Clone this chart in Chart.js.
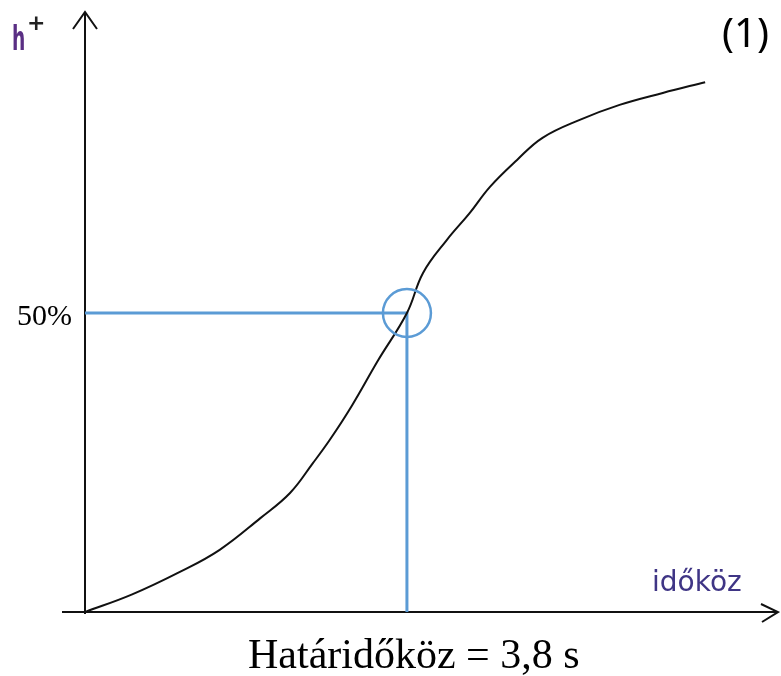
<!DOCTYPE html>
<html>
<head>
<meta charset="utf-8">
<script src="https://cdn.jsdelivr.net/npm/chart.js@4"></script>
<style>
  body { margin: 0; background: #fff; }
  #wrap { width: 781px; height: 676px; position: relative; }
</style>
</head>
<body>
<div id="wrap"><canvas id="chart"></canvas></div>
<script>
// curve: h+ (%) against headway (s)
const headway = [0, 0.55, 1.12, 1.59, 2.07, 2.42, 2.69, 2.89, 3.15, 3.46, 3.8, 3.99, 4.27, 4.54, 4.78, 5.10, 5.40, 5.84, 6.31, 6.82, 7.32];
const hPlus   = [0, 2.9, 6.7, 10.4, 15.7, 19.9, 24.9, 28.8, 34.5, 42.1, 50, 56.7, 62.2, 66.7, 71.1, 75.6, 79.3, 82.3, 84.8, 86.8, 88.6];

const criticalHeadway = 3.8;
const criticalShare = 50;
const yTickLabel = '50%';
const xAxisLabel = 'időköz';
const yAxisLabel = 'h';
const panelLabel = '(1)';
const resultLabel = 'Határidőköz = 3,8 s';

const blue = '#5b9bd5';

// axes with open arrow heads, the circle marker and all the text labels
const annotations = {
    id: 'annotations',
    beforeDatasetsDraw(chart) {
        const { ctx, chartArea, scales } = chart;
        const x0 = scales.x.getPixelForValue(0);
        const y0 = scales.y.getPixelForValue(0);
        const top = chartArea.top - 2;
        const right = chartArea.right;
        ctx.save();
        ctx.strokeStyle = '#111';
        ctx.lineWidth = 2;
        ctx.beginPath();
        ctx.moveTo(x0, y0 + 2);
        ctx.lineTo(x0, top);
        ctx.moveTo(62, y0);
        ctx.lineTo(right, y0);
        // arrow heads
        ctx.moveTo(x0 - 12, top + 17);
        ctx.lineTo(x0, top);
        ctx.lineTo(x0 + 12, top + 17);
        ctx.moveTo(right - 17, y0 - 8);
        ctx.lineTo(right, y0);
        ctx.lineTo(right - 16, y0 + 10);
        ctx.stroke();
        ctx.restore();
    },
    afterDraw(chart) {
        const { ctx, scales } = chart;
        ctx.save();

        // circle round the 50% point
        ctx.strokeStyle = blue;
        ctx.lineWidth = 2.5;
        ctx.beginPath();
        ctx.arc(scales.x.getPixelForValue(criticalHeadway), scales.y.getPixelForValue(criticalShare), 24, 0, Math.PI * 2);
        ctx.stroke();

        ctx.textBaseline = 'alphabetic';

        // h+
        ctx.fillStyle = '#5a2f84';
        ctx.font = 'bold 34px "DejaVu Sans"';
        ctx.save();
        ctx.translate(12, 50);
        ctx.scale(0.55, 1);
        ctx.fillText(yAxisLabel, 0, 0);
        ctx.restore();
        ctx.fillStyle = '#222';
        ctx.font = 'bold 22px "DejaVu Sans"';
        ctx.fillText('+', 27, 30);

        // időköz
        ctx.fillStyle = '#3f3585';
        ctx.font = '28px "DejaVu Sans"';
        ctx.textAlign = 'left';
        ctx.fillText(xAxisLabel, 652, 591);

        // 50%
        ctx.fillStyle = '#000';
        ctx.font = '30px "Liberation Serif"';
        ctx.textAlign = 'right';
        ctx.fillText(yTickLabel, 72, scales.y.getPixelForValue(criticalShare) + 12);

        // (1)
        ctx.font = '40px "Noto Sans"';
        ctx.fillText(panelLabel, 769, 47);

        // result
        ctx.font = '42px "Liberation Serif"';
        ctx.textAlign = 'left';
        ctx.fillText(resultLabel, 248, 668);
        ctx.restore();
    }
};

new Chart(document.getElementById('chart'), {
    type: 'line',
    data: {
        datasets: [
            {
                label: 'h+',
                data: headway.map((t, i) => ({ x: t, y: hPlus[i] })),
                borderColor: '#111',
                borderWidth: 2,
                pointRadius: 0,
                tension: 0.4,
                fill: false
            },
            {
                label: 'guide',
                data: [
                    { x: 0, y: criticalShare },
                    { x: criticalHeadway, y: criticalShare },
                    { x: criticalHeadway, y: 0 }
                ],
                borderColor: blue,
                borderWidth: 3,
                pointRadius: 0,
                tension: 0
            }
        ]
    },
    options: {
        responsive: true,
        maintainAspectRatio: false,
        animation: false,
        layout: { padding: { left: 85, right: 3, top: 14, bottom: 64 } },
        scales: {
            x: { type: 'linear', min: 0, max: 8.18, display: false },
            y: { type: 'linear', min: 0, max: 100, display: false }
        },
        plugins: {
            legend: { display: false },
            tooltip: { enabled: false }
        }
    },
    plugins: [annotations]
});
</script>
</body>
</html>
